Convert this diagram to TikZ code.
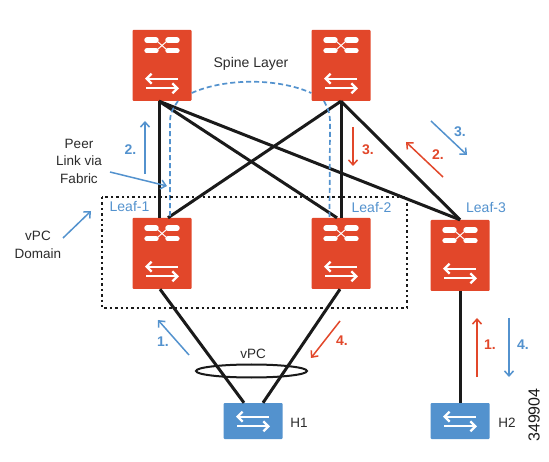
\documentclass[tikz,border=0pt]{standalone}
\usepackage{fontspec}
\setmainfont{Liberation Sans}
\usetikzlibrary{arrows.meta,shapes.geometric}
\definecolor{cred}{HTML}{E2472A}
\definecolor{cblue}{HTML}{5392CE}
\definecolor{cblack}{HTML}{1A1A1A}
\definecolor{ctext}{HTML}{2B2B2B}
\tikzset{
  x=1pt,y=-1pt,
  sw/.style={fill=cred,draw=none,rounded corners=1pt,minimum width=59pt,minimum height=71pt,inner sep=0pt},
  hostbox/.style={fill=cblue,draw=none,rounded corners=1pt,minimum width=59pt,minimum height=36pt,inner sep=0pt},
  link/.style={draw=cblack,line width=3pt},
  peer/.style={draw=cblue,line width=1.7pt,dash pattern=on 5pt off 3pt},
  flowred/.style={draw=cred,line width=1.5pt,-{Straight Barb[length=5pt,width=9pt,line width=1.5pt]}},
  flowblue/.style={draw=cblue,line width=1.5pt,-{Straight Barb[length=5pt,width=9pt,line width=1.5pt]}},
  lab/.style={font=\fontsize{13.5}{17.5}\selectfont,text=ctext,inner sep=0pt,align=center},
  leaflab/.style={font=\fontsize{14}{16}\selectfont,text=cblue,inner sep=0pt},
  numred/.style={font=\bfseries\fontsize{14}{16}\selectfont,text=cred,inner sep=0pt},
  numblue/.style={font=\bfseries\fontsize{14}{16}\selectfont,text=cblue,inner sep=0pt},
  whitebar/.style={draw=white,line width=5.4pt,line cap=round},
  whitethin/.style={draw=white,line width=1pt},
  whitearrow/.style={draw=white,line width=2.3pt,-{Straight Barb[length=5pt,width=10pt,line width=2.3pt]}},
  arrowsicon/.pic={
    \draw[whitearrow] (16,-4.8) -- (-17,-4.8);
    \draw[whitearrow] (-16,4.8) -- (17,4.8);
  },
  xicon/.pic={
    \draw[whitebar] (-15,-5.3) -- (-6,-5.3);
    \draw[whitebar] (6,-5.3) -- (15,-5.3);
    \draw[whitebar] (-15,5.3) -- (-6,5.3);
    \draw[whitebar] (6,5.3) -- (15,5.3);
    \draw[whitethin] (-6,-5.3) -- (6,5.3);
    \draw[whitethin] (-6,5.3) -- (6,-5.3);
  },
  switchicon/.pic={
    \pic at (0,-20) {xicon};
    \pic at (0,18) {arrowsicon};
  }
}
\begin{document}
\begin{tikzpicture}
\useasboundingbox (0,0) rectangle (549,462);
\fill[white] (0,0) rectangle (549,462);

% devices
\node[sw] (S1) at (162,65.5) {};
\node[sw] (S2) at (341,65.5) {};
\node[sw] (L1) at (162,253.5) {};
\node[sw] (L2) at (341,253.5) {};
\node[sw] (L3) at (460,255.5) {};
\node[hostbox] (H1) at (253,421) {};
\node[hostbox] (H2) at (460,421) {};

% links
\draw[link] ([xshift=-3pt]S1.south) -- ([xshift=-3pt]L1.north);
\draw[link] ([xshift=-3pt]S1.south) -- ([xshift=-4pt]L2.north);
\draw[link] ([xshift=-3pt]S1.south) -- (L3.north);
\draw[link] (S2.south) -- ([xshift=6pt]L1.north);
\draw[link] (S2.south) -- (L2.north);
\draw[link] (S2.south) -- (L3.north);
\draw[link] ([xshift=-2pt]L1.south) -- ([xshift=-9pt]H1.north);
\draw[link] ([xshift=-1pt]L2.south) -- ([xshift=10pt]H1.north);
\draw[link] (L3.south) -- (H2.north);

% peer link
\draw[peer] (S1.east |- 0,93) .. controls (225,78) and (278,78) .. (S2.west |- 0,93);
\draw[peer] (178,101) .. controls (174,107) and (170,112) .. (170,122) -- (170,218);
\draw[peer] (324,101) .. controls (327,107) and (330,112) .. (330,122) -- (329.5,218);

% domain
\draw[cblack,line width=2.4pt,dash pattern=on 2.4pt off 3pt] (102,197) rectangle (407,308);

% vPC ring
\node[ellipse,draw=cblack,line width=2pt,minimum width=111pt,minimum height=13pt,inner sep=0pt] (ring) at (251.5,371) {};

% icons
\pic at (S1.center) {switchicon};
\pic at (S2.center) {switchicon};
\pic at (L1.center) {switchicon};
\pic at (L2.center) {switchicon};
\pic at (L3.center) {switchicon};
\pic at ([yshift=-0.5pt]H1.center) {arrowsicon};
\pic at ([yshift=-0.5pt]H2.center) {arrowsicon};

% flow arrows
\coordinate (b2a) at (145,174); \coordinate (b2b) at (145,121);
\coordinate (pa) at (110,172); \coordinate (pb) at (167,186);
\coordinate (da) at (63,238); \coordinate (db) at (91,211);
\coordinate (b1a) at (189,355); \coordinate (b1b) at (158,320);
\coordinate (r4a) at (340,321); \coordinate (r4b) at (311,358);
\coordinate (r3a) at (353,127); \coordinate (r3b) at (353,166);
\coordinate (r2a) at (443,177); \coordinate (r2b) at (406,142);
\coordinate (b3a) at (431,121); \coordinate (b3b) at (467,155);
\coordinate (r1a) at (477,377); \coordinate (r1b) at (477,318);
\coordinate (b4a) at (509,318); \coordinate (b4b) at (509,377);
\draw[flowblue] (b2a) -- (b2b);
\draw[flowblue] (pa) -- (pb);
\draw[flowblue] (da) -- (db);
\draw[flowblue] (b1a) -- (b1b);
\draw[flowred] (r4a) -- (r4b);
\draw[flowred] (r3a) -- (r3b);
\draw[flowred] (r2a) -- (r2b);
\draw[flowblue] (b3a) -- (b3b);
\draw[flowred] (r1a) -- (r1b);
\draw[flowblue] (b4a) -- (b4b);

% labels
\node[lab,font=\fontsize{14}{17}\selectfont] (tspine) at (251,64) {Spine Layer};
\node[lab] (tpeer) at (79,161) {Peer\\Link via\\Fabric};
\node[lab] (tdom) at (38,245) {vPC\\Domain};
\node[lab] (tvpc) at (253,354) {vPC};
\node[lab] (th1) at (299,423) {H1};
\node[lab] (th2) at (507,423) {H2};
\node[leaflab] (tl1) at (129.5,207) {Leaf-1};
\node[leaflab] (tl2) at (371.5,208) {Leaf-2};
\node[leaflab] (tl3) at (486,208) {Leaf-3};
\node[numblue] (n2b) at (130.5,150) {2.};
\node[numblue] (n1b) at (163,342) {1.};
\node[numblue] (n3b) at (460,132) {3.};
\node[numblue] (n4b) at (523,345) {4.};
\node[numred] (n3r) at (368,150) {3.};
\node[numred] (n2r) at (438,155) {2.};
\node[numred] (n4r) at (342,341) {4.};
\node[numred] (n1r) at (490,345) {1.};
\node[lab,font=\fontsize{16}{17}\selectfont,rotate=90,text=cblack] (code) at (534,415) {349904};
\end{tikzpicture}
\end{document}
